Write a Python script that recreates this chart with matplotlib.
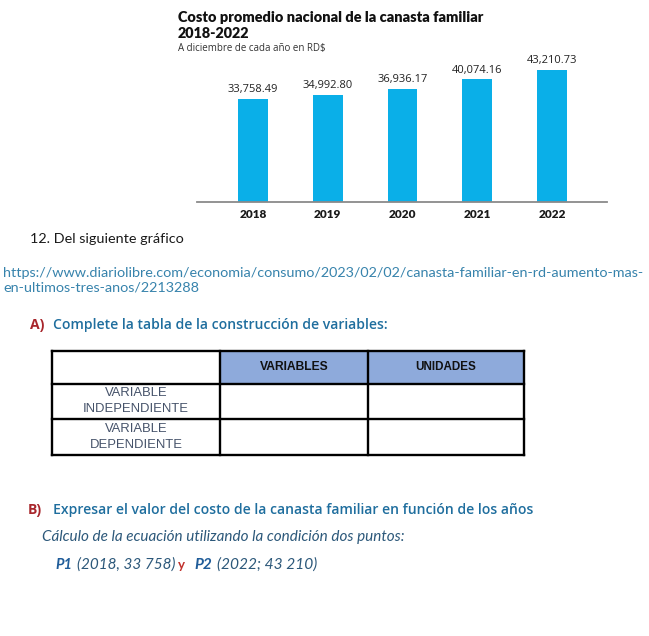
import matplotlib
matplotlib.use("Agg")
import matplotlib.pyplot as plt
from matplotlib.patches import Rectangle
from matplotlib.lines import Line2D

# ---------------- data ----------------
years = ["2018", "2019", "2020", "2021", "2022"]
values = [33758.49, 34992.80, 36936.17, 40074.16, 43210.73]
value_labels = ["33,758.49", "34,992.80", "36,936.17", "40,074.16", "43,210.73"]

chart_title = "Costo promedio nacional de la canasta familiar"
chart_title2 = "2018-2022"
chart_subtitle = "A diciembre de cada año en RD$"

question = "12. Del siguiente gráfico"
url_line1 = "https://www.diariolibre.com/economia/consumo/2023/02/02/canasta-familiar-en-rd-aumento-mas-"
url_line2 = "en-ultimos-tres-anos/2213288"

heading_a = "Complete la tabla de la construcción de variables:"
table_header = ["", "VARIABLES", "UNIDADES"]
table_rows = [["VARIABLE", "INDEPENDIENTE"], ["VARIABLE", "DEPENDIENTE"]]

heading_b = "Expresar el valor del costo de la canasta familiar en función de los años"
calc_text = "Cálculo de la ecuación utilizando la condición dos puntos:"
p_runs = ["P1", "(2018, 33 758)", "y", "P2", "(2022; 43 210)"]

# ---------------- figure ----------------
W, H = 649, 636
fig = plt.figure(figsize=(W / 100, H / 100), dpi=100)
fig.patch.set_facecolor("white")
renderer = fig.canvas.get_renderer()


def fx(x):
    return x / W


def fy(y):
    return 1 - y / H


def put(x, y, s, width=None, ha="left", fs=10, **kw):
    t = fig.text(fx(x), fy(y), s, ha=ha, va="center", fontsize=fs, **kw)
    if width is not None:
        w = t.get_window_extent(renderer).width
        t.set_fontsize(fs * width / w)
    return t


# ---------------- bar chart ----------------
bar_color = "#0AAFE8"
ax = fig.add_axes([197 / W, (H - 202) / H, 410 / W, 142 / H])
xs = list(range(len(years)))
ax.bar(xs, values, width=0.40, color=bar_color, zorder=2)
ax.set_xlim(-0.749, 4.736)
ax.set_ylim(0, 46330)
for s in ["top", "right", "left"]:
    ax.spines[s].set_visible(False)
ax.spines["bottom"].set_color("#8a8a8a")
ax.spines["bottom"].set_linewidth(1.3)
ax.set_yticks([])
ax.set_xticks(xs)
ax.set_xticklabels(years, fontsize=8.5, fontweight="heavy", family="Lato", color="#1a1a1a")
ax.tick_params(axis="x", length=0, pad=5)
ax.set_facecolor("none")
for x, v, lab in zip(xs, values, value_labels):
    ax.annotate(lab, (x, v), xytext=(0, 2.5), textcoords="offset points",
                ha="center", va="bottom", fontsize=8, color="#222222",
                family="Open Sans")

put(178, 18, chart_title, width=305, fs=10, fontweight="heavy", family="Lato", color="#111111")
put(178, 34, chart_title2, width=72, fs=10, fontweight="heavy", family="Lato", color="#111111")
put(178, 48, chart_subtitle, width=149, fs=7, family="Open Sans", color="#333333")

# ---------------- document text ----------------
body_font = "Lato"
url_color = "#3783AC"
t1 = put(3, 273, url_line1, width=642, fs=9.5, family=body_font, color=url_color)
put(3, 288, url_line2, fs=t1.get_fontsize(), family=body_font, color=url_color)
put(30, 239, question, fs=t1.get_fontsize(), family=body_font, color="#1a1a1a")

head_color = "#1F6E9E"
red = "#A8262C"
ha_txt = put(53, 325, heading_a, width=335, fs=11, family="Open Sans", fontweight="semibold", color=head_color)
put(30, 325, "A)", fs=ha_txt.get_fontsize(), family="Open Sans", fontweight="bold", color=red)

# ---------------- table ----------------
col_x = [52, 220, 368, 524]
row_y = [351, 384, 419, 455]
fig.add_artist(Rectangle((fx(col_x[1]), fy(row_y[1])), (col_x[3] - col_x[1]) / W,
                         (row_y[1] - row_y[0]) / H, transform=fig.transFigure,
                         facecolor="#8EAADB", edgecolor="none", zorder=1))
lw = 1.7
for yv in row_y:
    fig.add_artist(Line2D([fx(col_x[0]), fx(col_x[-1])], [fy(yv), fy(yv)],
                          transform=fig.transFigure, color="black", lw=lw, zorder=3))
for xv in col_x:
    fig.add_artist(Line2D([fx(xv), fx(xv)], [fy(row_y[0]), fy(row_y[-1])],
                          transform=fig.transFigure, color="black", lw=lw, zorder=3))

hdr_w = [None, 69, 61]
for j in (1, 2):
    cx = (col_x[j] + col_x[j + 1]) / 2
    put(cx, 367, table_header[j], width=hdr_w[j], ha="center", fs=8,
        family=["Liberation Sans Narrow", "Liberation Sans"], fontweight="bold", color="#111111")

row_text_color = "#46536A"
cx0 = (col_x[0] + col_x[1]) / 2
ta = put(cx0, 393, table_rows[0][0], ha="center", fs=8.5, family="Liberation Sans", color=row_text_color)
tb = put(cx0, 409, table_rows[0][1], width=106, ha="center", fs=8.5, family="Liberation Sans", color=row_text_color)
fsr = tb.get_fontsize()
ta.set_fontsize(fsr)
put(cx0, 429, table_rows[1][0], ha="center", fs=fsr, family="Liberation Sans", color=row_text_color)
put(cx0, 445, table_rows[1][1], ha="center", fs=fsr, family="Liberation Sans", color=row_text_color)

# ---------------- part B ----------------
hb_txt = put(53, 510, heading_b, width=480, fs=11, family="Open Sans", fontweight="semibold", color=head_color)
put(28, 510, "B)", fs=hb_txt.get_fontsize(), family="Open Sans", fontweight="bold", color=red)
put(42, 537, calc_text, width=361, fs=9, family=body_font, style="italic", color="#2C587A")

p_blue = "#1F5C99"
p_pos = [(55, 17), (77, 98), (178, 7), (194, 18), (217, 100)]
p_style = [dict(fontweight="bold", style="italic", color=p_blue),
           dict(style="italic", color="#2C587A"),
           dict(fontweight="bold", color="#C0302B"),
           dict(fontweight="bold", style="italic", color=p_blue),
           dict(style="italic", color="#2C587A")]
for s, (x0, w0), st in zip(p_runs, p_pos, p_style):
    put(x0, 565, s, width=w0, fs=9.5, family=body_font, **st)

fig.savefig("out.png", dpi=100, facecolor="white")
